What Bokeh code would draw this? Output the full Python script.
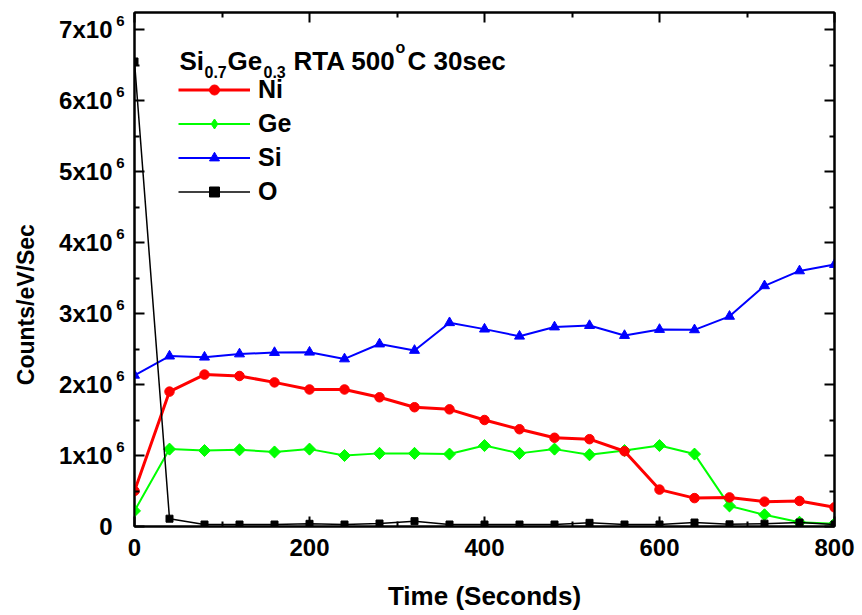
import numpy as np
from bokeh.plotting import figure
from bokeh.models import (Range1d, FixedTicker, LinearAxis, Label,
                          Legend, LegendItem)
from bokeh.embed import file_html
from bokeh.resources import INLINE

# ---------------- data ----------------
time_s = [0, 40, 80, 120, 160, 200, 240, 280, 320, 360, 400,
          440, 480, 520, 560, 600, 640, 680, 720, 760, 800]
ni = [0.50e6, 1.90e6, 2.14e6, 2.12e6, 2.03e6, 1.93e6, 1.93e6, 1.82e6, 1.68e6, 1.65e6, 1.50e6,
      1.37e6, 1.25e6, 1.23e6, 1.06e6, 0.52e6, 0.40e6, 0.41e6, 0.35e6, 0.36e6, 0.27e6]
ge = [0.22e6, 1.09e6, 1.07e6, 1.08e6, 1.05e6, 1.09e6, 1.00e6, 1.03e6, 1.03e6, 1.02e6, 1.14e6,
      1.03e6, 1.09e6, 1.01e6, 1.07e6, 1.14e6, 1.02e6, 0.29e6, 0.165e6, 0.06e6, 0.04e6]
si = [2.13e6, 2.40e6, 2.385e6, 2.43e6, 2.45e6, 2.455e6, 2.36e6, 2.57e6, 2.48e6, 2.87e6, 2.78e6,
      2.68e6, 2.81e6, 2.83e6, 2.69e6, 2.775e6, 2.77e6, 2.96e6, 3.39e6, 3.60e6, 3.69e6]
o = [6.55e6, 0.11e6, 0.028e6, 0.028e6, 0.028e6, 0.038e6, 0.028e6, 0.042e6, 0.075e6, 0.028e6, 0.028e6,
     0.028e6, 0.028e6, 0.052e6, 0.028e6, 0.028e6, 0.056e6, 0.03e6, 0.04e6, 0.056e6, 0.028e6]

x_ticks = [0, 200, 400, 600, 800]
x_minor = [100, 300, 500, 700]
y_ticks = [0, 1e6, 2e6, 3e6, 4e6, 5e6, 6e6, 7e6]
y_minor = [0.5e6, 1.5e6, 2.5e6, 3.5e6, 4.5e6, 5.5e6, 6.5e6]
y_tick_base = ["0", "1x10", "2x10", "3x10", "4x10", "5x10", "6x10", "7x10"]
y_tick_exp = ["", "6", "6", "6", "6", "6", "6", "6"]

series_names = ["Ni", "Ge", "Si", "O"]

# ---------------- layout ----------------
W, H = 862, 615
L, R, T, B = 134, 28, 12, 89
X0, X1 = 0, 800
Y0, Y1 = 0, 7.24e6
FONT = "Liberation Sans"

fw, fh = W - L - R, H - T - B
def dx(px):
    return X0 + (px - L) / fw * (X1 - X0)
def dy(py):
    return Y0 + (T + fh - py) / fh * (Y1 - Y0)
PXY = (Y1 - Y0) / fh

p = figure(width=W, height=H, x_range=Range1d(X0, X1), y_range=Range1d(Y0, Y1),
           output_backend="svg", toolbar_location=None,
           min_border_left=L, min_border_right=R, min_border_top=T, min_border_bottom=B)
p.xgrid.visible = False
p.ygrid.visible = False
p.outline_line_color = "black"
p.outline_line_width = 2
p.background_fill_color = "white"
p.border_fill_color = "white"

def style_axis(ax, ticker, major_len, minor_len, show_labels):
    ax.ticker = ticker
    ax.axis_line_color = "black"
    ax.axis_line_width = 2
    ax.major_tick_in = major_len
    ax.major_tick_out = 0
    ax.minor_tick_in = minor_len
    ax.minor_tick_out = 0
    ax.major_tick_line_width = 2
    ax.minor_tick_line_width = 2
    ax.major_tick_line_color = "black"
    ax.minor_tick_line_color = "black"
    if not show_labels:
        ax.major_label_overrides = {t: "" for t in ticker.ticks}
        ax.major_label_standoff = 0

def label_axis(ax, ticks, texts, size, standoff):
    ax.ticker = FixedTicker(ticks=ticks, minor_ticks=[])
    ax.axis_line_color = None
    ax.major_tick_line_color = None
    ax.minor_tick_line_color = None
    ax.major_tick_in = 0
    ax.major_tick_out = 0
    ax.minor_tick_in = 0
    ax.minor_tick_out = 0
    ax.major_label_overrides = {t: s for t, s in zip(ticks, texts)}
    ax.major_label_standoff = standoff
    ax.major_label_text_font = FONT
    ax.major_label_text_font_style = "bold"
    ax.major_label_text_font_size = size
    ax.major_label_text_color = "black"

style_axis(p.xaxis[0], FixedTicker(ticks=x_ticks, minor_ticks=x_minor), 10, 5, True)
p.xaxis.major_label_text_font = FONT
p.xaxis.major_label_text_font_style = "bold"
p.xaxis.major_label_text_font_size = "24px"
p.xaxis.major_label_text_color = "black"
p.xaxis.major_label_standoff = 12
p.xaxis.axis_label = "Time (Seconds)"
p.xaxis.axis_label_text_font = FONT
p.xaxis.axis_label_text_font_style = "bold"
p.xaxis.axis_label_text_font_size = "26px"
p.xaxis.axis_label_text_color = "black"
p.xaxis.axis_label_standoff = 22

# left: tick marks only (nearest the frame)
style_axis(p.yaxis[0], FixedTicker(ticks=y_ticks, minor_ticks=y_minor), 10, 5, False)

# left: superscript exponents, a few pixels above each tick
exp_ticks = [t + 9 * PXY for t, e in zip(y_ticks, y_tick_exp) if e]
exp_texts = [e for e in y_tick_exp if e]
exp_ax = LinearAxis()
label_axis(exp_ax, exp_ticks, exp_texts, "15px", 10)
p.add_layout(exp_ax, "left")

# left: mantissa labels
base_ax = LinearAxis()
label_axis(base_ax, y_ticks, y_tick_base, "24px", 1)
base_ax.axis_label = "Counts/eV/Sec" + "\u00a0" * 11
base_ax.axis_label_text_font = FONT
base_ax.axis_label_text_font_style = "bold"
base_ax.axis_label_text_font_size = "23px"
base_ax.axis_label_text_color = "black"
base_ax.axis_label_standoff = 17
p.add_layout(base_ax, "left")

top_ax = LinearAxis()
style_axis(top_ax, FixedTicker(ticks=x_ticks, minor_ticks=x_minor), 10, 5, False)
p.add_layout(top_ax, "above")
right_ax = LinearAxis()
style_axis(right_ax, FixedTicker(ticks=y_ticks, minor_ticks=y_minor), 10, 5, False)
p.add_layout(right_ax, "right")

# ---------------- series ----------------
ge_line = p.line(time_s, ge, line_color="#00ff00", line_width=2)
# diamond used for the legend key (sits fully inside the rotated squares below)
ge_key = p.scatter(time_s, ge, marker="diamond", size=11, fill_color="#00ff00", line_color="#00ff00")
ge_pts = p.scatter(time_s, ge, marker="square", angle=np.pi / 4, size=8.5,
                   fill_color="#00ff00", line_color="#00ff00")
ni_line = p.line(time_s, ni, line_color="#ff0000", line_width=3)
ni_pts = p.scatter(time_s, ni, marker="circle", size=9.5, fill_color="#ff0000", line_color="#ff0000")
si_line = p.line(time_s, si, line_color="#0000ff", line_width=2)
si_pts = p.scatter(time_s, si, marker="triangle", size=10, fill_color="#0000ff", line_color="#0000ff")
o_line = p.line(time_s, o, line_color="black", line_width=1.5)
o_pts = p.scatter(time_s, o, marker="square", size=7, fill_color="black", line_color="black")

legend = Legend(items=[
    LegendItem(label=series_names[0], renderers=[ni_line, ni_pts]),
    LegendItem(label=series_names[1], renderers=[ge_line, ge_key]),
    LegendItem(label=series_names[2], renderers=[si_line, si_pts]),
    LegendItem(label=series_names[3], renderers=[o_line, o_pts]),
], location=(44, 318), glyph_width=72, glyph_height=25, label_height=34,
   spacing=0, padding=0, margin=0, label_standoff=8,
   label_text_font=FONT, label_text_font_style="bold", label_text_font_size="25px",
   label_text_color="black", border_line_color=None, background_fill_alpha=0)
p.add_layout(legend)

# ---------------- legend title with sub/superscripts ----------------
title_parts = [
    ("Si", 179, 60.5, "26px"),
    ("0.7", 204, 71.5, "16px"),
    ("Ge", 227, 60.5, "26px"),
    ("0.3", 263, 71.5, "16px"),
    ("RTA 500", 293, 60.5, "26px"),
    ("o", 395, 46.5, "16px"),
    ("C 30sec", 407, 60.5, "26px"),
]
for txt, px, py, fs in title_parts:
    p.add_layout(Label(x=dx(px), y=dy(py), text=txt, text_align="left",
                       text_baseline="alphabetic", text_font=FONT, text_font_style="bold",
                       text_font_size=fs, text_color="black"))

open("out.html", "w").write(file_html(p, INLINE))
